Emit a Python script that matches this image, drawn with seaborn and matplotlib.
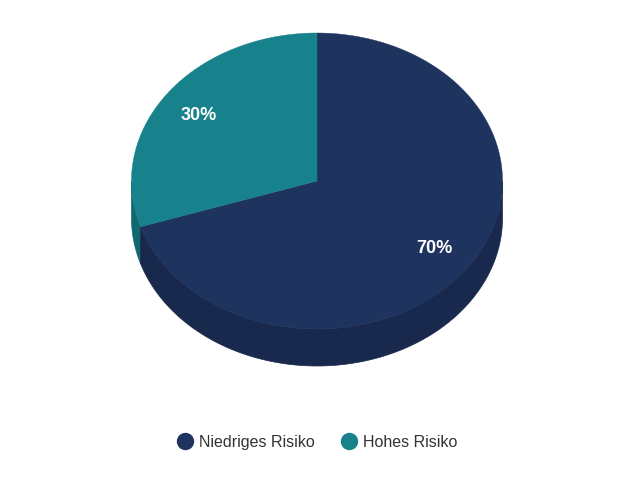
import numpy as np
import pandas as pd
import matplotlib.pyplot as plt
from matplotlib.patches import Polygon
import seaborn as sns

# Data
categories = ["Niedriges Risiko", "Hohes Risiko"]
values = [70, 30]
colors = ["#1f335f", "#17818c"]
side_colors = ["#19294d", "#126870"]

sns.set_theme(style="white")
plt.rcParams['font.family'] = ['Liberation Sans', 'DejaVu Sans']

df = pd.DataFrame({"risk": categories, "value": values})

fig = plt.figure(figsize=(6.4, 4.8), dpi=100)
ax = fig.add_axes([0, 0, 1, 1])
ax.set_xlim(0, 640)
ax.set_ylim(480, 0)
ax.axis("off")

# pie geometry in pixels
cx, cy = 317, 181
rx, ry = 185.5, 148
depth = 37


def slice_points(a0, a1):
    # angles clockwise from 12 o'clock
    t = np.radians(np.linspace(a0, a1, 200))
    return cx + rx * np.sin(t), cy - ry * np.cos(t)


angles = np.cumsum([0] + [v / sum(values) * 360 for v in values])

# side walls first, only the part of the rim facing the viewer
for i in [1, 0]:
    a0, a1 = angles[i], angles[i + 1]
    lo, hi = max(a0, 90), min(a1, 270)
    if lo < hi:
        x, y = slice_points(lo, hi)
        pts = np.vstack([np.c_[x, y], np.c_[x[::-1], y[::-1] + depth]])
        ax.add_patch(Polygon(pts, closed=True, fc=side_colors[i], ec=side_colors[i], lw=0.5))

# top faces
for i in range(len(values)):
    x, y = slice_points(angles[i], angles[i + 1])
    pts = np.vstack([[cx, cy], np.c_[x, y]])
    ax.add_patch(Polygon(pts, closed=True, fc=colors[i], ec=colors[i], lw=0.3))

# value labels
for i, row in df.iterrows():
    mid = np.radians((angles[i] + angles[i + 1]) / 2)
    lx = cx + 0.785 * rx * np.sin(mid)
    ly = cy - 0.77 * ry * np.cos(mid) + 1
    ax.text(lx, ly, f"{row['value']}%", color="white", fontsize=13, fontweight="bold",
            ha="center", va="center")

# legend
handles = [plt.Line2D([], [], marker="o", ls="", ms=11.5, color=c) for c in colors]
leg = ax.legend(handles, categories, loc="center", bbox_to_anchor=(317.5 / 640, 1 - 442 / 480),
                ncol=2, frameon=False, fontsize=11.5, labelcolor="#333333", handlelength=1,
                handletextpad=0.375, columnspacing=1.63, borderpad=0)
# the two columns land a pixel apart, line the labels up
leg.get_texts()[1].set_y(-0.5)

fig.savefig("out.png", dpi=100)
